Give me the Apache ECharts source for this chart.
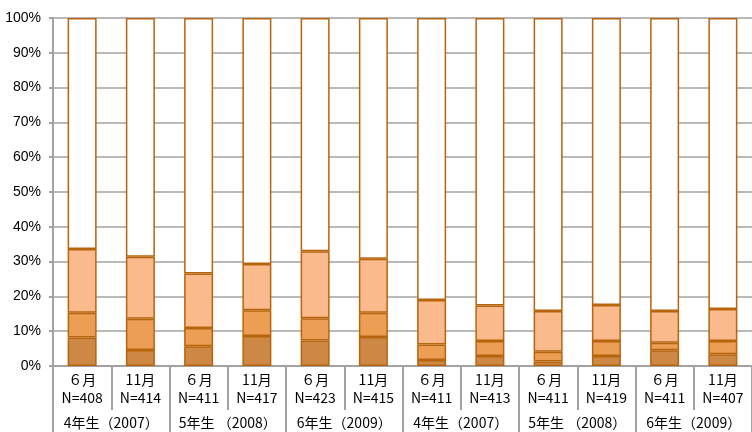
<!DOCTYPE html>
<html>
<head>
<meta charset="utf-8">
<script src="https://cdn.jsdelivr.net/npm/echarts@6/dist/echarts.min.js"></script>
<style>
  html, body { margin: 0; padding: 0; background: #fff; }
  #chart { width: 752px; height: 432px; }
</style>
</head>
<body>
<div id="chart"></div>
<script>
// x labels: month + sample size
const months = ['６月', '11月', '６月', '11月', '６月', '11月', '６月', '11月', '６月', '11月', '６月', '11月'];
const sizes = ['N=408', 'N=414', 'N=411', 'N=417', 'N=423', 'N=415', 'N=411', 'N=413', 'N=411', 'N=419', 'N=411', 'N=407'];
const groups = ['4年生（2007）', '5年生 （2008）', '6年生（2009）', '4年生（2007）', '5年生 （2008）', '6年生（2009）'];

// stacked shares (%), bottom to top
const part1 = [8.2, 4.6, 5.7, 8.6, 7.3, 8.3, 1.7, 2.9, 1.3, 2.9, 4.5, 3.4];
const part2 = [7.1, 9.0, 5.2, 7.4, 6.4, 7.0, 4.5, 4.3, 2.8, 4.3, 2.2, 3.8];
const part3 = [18.3, 17.8, 15.7, 13.3, 19.3, 15.5, 12.8, 10.2, 11.7, 10.3, 9.1, 9.2];
const part4 = [66.4, 68.6, 73.4, 70.7, 67.0, 69.2, 81.0, 82.6, 84.2, 82.5, 84.2, 83.6];

const colors = ['#CC8844', '#EC9E55', '#FABA8C', '#FFFFFF'];
const edge = '#B8640C';
const gray = '#a2a2a2';

const categories = months.map((m, i) => m + '\n' + sizes[i]);

const chart = echarts.init(document.getElementById('chart'));

const makeSeries = (name, data, i) => ({
  name: name,
  type: 'bar',
  stack: 'total',
  xAxisIndex: 0,
  barWidth: 29,
  data: data,
  itemStyle: {
    color: colors[i],
    borderColor: edge,
    borderWidth: 1.5,
  },
  emphasis: { disabled: true },
});

const option = {
  animation: false,
  textStyle: { fontFamily: '"Noto Sans CJK JP", sans-serif' },
  grid: { left: 53, top: 18, width: 706, height: 348 },
  xAxis: [
    {
      type: 'category',
      data: categories,
      axisLine: { lineStyle: { color: gray, width: 2 } },
      axisTick: { show: true, length: 44, lineStyle: { color: gray, width: 2 } },
      axisLabel: {
        interval: 0,
        margin: 5,
        fontSize: 14,
        lineHeight: 18,
        color: '#000',
        fontFamily: '"Noto Sans CJK JP", sans-serif',
      },
    },
    {
      type: 'category',
      position: 'bottom',
      data: groups,
      axisLine: { show: false },
      axisTick: { show: true, length: 68, lineStyle: { color: gray, width: 2 } },
      axisLabel: {
        interval: 0,
        margin: 50,
        fontSize: 14,
        color: '#000',
        fontFamily: '"Noto Sans CJK JP", sans-serif',
      },
    },
  ],
  yAxis: {
    type: 'value',
    min: 0,
    max: 100,
    interval: 10,
    axisLine: { show: true, lineStyle: { color: gray, width: 2 } },
    axisTick: { show: true, length: 4, lineStyle: { color: gray, width: 2 } },
    splitLine: { lineStyle: { color: gray, width: 1.5 } },
    axisLabel: {
      formatter: '{value}%',
      fontSize: 14,
      margin: 12,
      color: '#000',
      fontFamily: '"Liberation Sans", sans-serif',
    },
  },
  series: [
    makeSeries('a', part1, 0),
    makeSeries('b', part2, 1),
    makeSeries('c', part3, 2),
    makeSeries('d', part4, 3),
  ],
};

chart.setOption(option);
</script>
</body>
</html>
